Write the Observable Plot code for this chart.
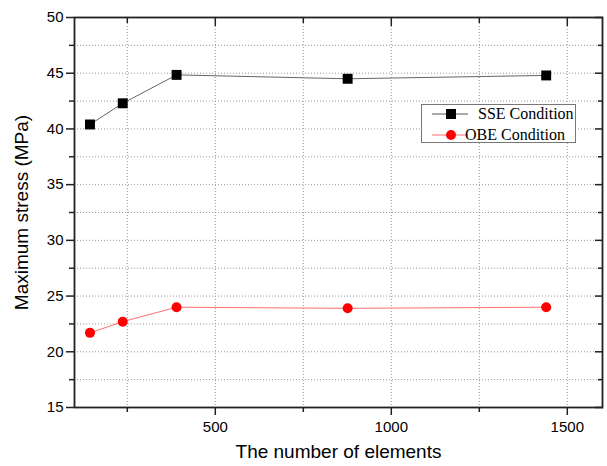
<!DOCTYPE html>
<html>
<head>
<meta charset="utf-8">
<script src="https://cdn.jsdelivr.net/npm/d3@7"></script>
<script src="https://cdn.jsdelivr.net/npm/@observablehq/plot@0.6"></script>
<style>
  body { margin: 0; background: #fff; }
  #wrap { position: relative; width: 607px; height: 466px; }
  #legend {
    position: absolute; left: 421px; top: 104px; width: 155px; height: 39px;
    border: 1px solid #777; background: #fff; box-sizing: border-box;
    font-family: "Liberation Serif", "Times New Roman", serif; font-size: 16px; color: #000;
  }
  .row { position: absolute; left: 0; height: 20px; display: flex; align-items: center; }
  .row svg { display: block; }
  .row span { margin-left: 9px; white-space: nowrap; }
</style>
</head>
<body>
<div id="wrap">
  <div id="chart"></div>
  <div id="legend">
    <div class="row" style="top:-1px"><svg width="47" height="20"><line x1="10" x2="46" y1="10" y2="10" stroke="#555" stroke-width="1"/><rect x="24" y="5" width="10" height="10" fill="#000"/></svg><span>SSE Condition</span></div>
    <div class="row" style="top:20px"><svg width="47" height="20"><line x1="10" x2="46" y1="10" y2="10" stroke="#ff7070" stroke-width="1"/><circle cx="29" cy="10" r="5" fill="#ff0000"/></svg><span style="margin-left:-4px">OBE Condition</span></div>
  </div>
</div>
<script>
const elements = [144, 237, 390, 876, 1440];
const sseStress = [40.4, 42.3, 44.85, 44.5, 44.8];
const obeStress = [21.7, 22.7, 24.0, 23.9, 24.0];
const xMajorTicks = [500, 1000, 1500];
const xMinorTicks = [250, 750, 1250];
const yMajorTicks = [15, 20, 25, 30, 35, 40, 45, 50];
const yMinorTicks = [17.5, 22.5, 27.5, 32.5, 37.5, 42.5, 47.5];
const xTitle = "The number of elements";
const yTitle = "Maximum stress (MPa)";

const sse = elements.map((x, i) => ({x, y: sseStress[i]}));
const obe = elements.map((x, i) => ({x, y: obeStress[i]}));
const xGrid = [...xMajorTicks, ...xMinorTicks];
const yGrid = [...yMajorTicks, ...yMinorTicks].filter(v => v > 15 && v < 50);

const axisColor = "#222";
const none = () => "";
const common = {stroke: axisColor, strokeWidth: 1.5, label: null};
const chart = Plot.plot({
  width: 607,
  height: 466,
  marginLeft: 74,
  marginRight: 5,
  marginTop: 17,
  marginBottom: 59,
  style: {fontFamily: "'Liberation Sans', Arial, sans-serif", fontSize: "15px", color: "#000", background: "#fff"},
  x: {domain: [100, 1600]},
  y: {domain: [15, 50]},
  marks: [
    Plot.gridX({ticks: xGrid, stroke: "#999", strokeOpacity: 1, strokeDasharray: "1,2"}),
    Plot.gridY({ticks: yGrid, stroke: "#999", strokeOpacity: 1, strokeDasharray: "1,2"}),
    Plot.axisX({...common, ticks: xMajorTicks, anchor: "bottom", tickSize: 8, tickPadding: 6, fontSize: 15, tickFormat: d => String(d)}),
    Plot.axisX({...common, ticks: xMinorTicks, anchor: "bottom", tickSize: 5, tickFormat: none}),
    Plot.axisX({...common, ticks: xMajorTicks, anchor: "top", tickSize: -8, tickFormat: none}),
    Plot.axisX({...common, ticks: xMinorTicks, anchor: "top", tickSize: -5, tickFormat: none}),
    Plot.axisY({...common, ticks: yMajorTicks, anchor: "left", tickSize: 8, tickPadding: 3, fontSize: 15, tickFormat: d => String(d)}),
    Plot.axisY({...common, ticks: yMinorTicks, anchor: "left", tickSize: 5, tickFormat: none}),
    Plot.axisY({...common, ticks: yMajorTicks, anchor: "right", tickSize: -8, tickFormat: none}),
    Plot.axisY({...common, ticks: yMinorTicks, anchor: "right", tickSize: -5, tickFormat: none}),
    Plot.frame({stroke: axisColor, strokeWidth: 1.8}),
    Plot.text([xTitle], {frameAnchor: "bottom", textAnchor: "middle", dy: 50, fontSize: 19, fill: "#000"}),
    Plot.text([yTitle], {frameAnchor: "left", textAnchor: "middle", rotate: -90, dx: -53, fontSize: 19, fill: "#000"}),
    Plot.line(sse, {x: "x", y: "y", stroke: "#666", strokeWidth: 1}),
    Plot.line(obe, {x: "x", y: "y", stroke: "#ff7070", strokeWidth: 1}),
    Plot.dot(sse, {x: "x", y: "y", symbol: "square", r: 5.6, fill: "#000", stroke: "none"}),
    Plot.dot(obe, {x: "x", y: "y", symbol: "circle", r: 5, fill: "#ff0000", stroke: "none"})
  ]
});
document.getElementById("chart").appendChild(chart);
</script>
</body>
</html>
